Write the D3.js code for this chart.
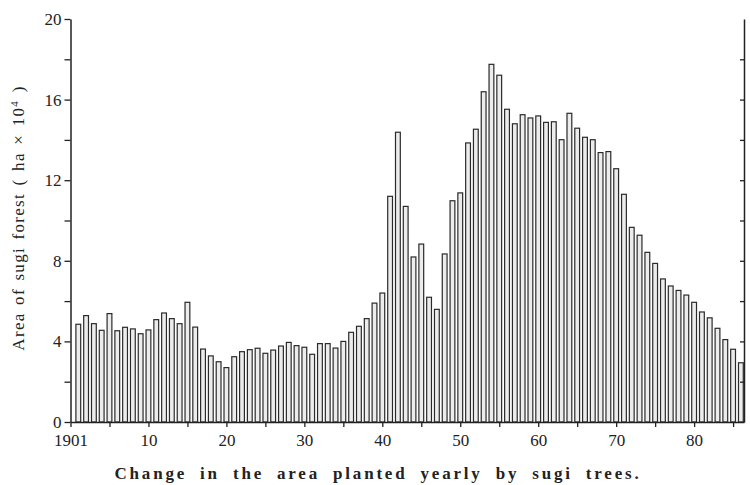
<!DOCTYPE html>
<html>
<head>
<meta charset="utf-8">
<script src="https://cdn.jsdelivr.net/npm/d3@7"></script>
<style>
  html, body { margin: 0; padding: 0; background: #fff; }
  svg { display: block; }
  text { font-family: "Liberation Serif", "DejaVu Serif", serif; fill: #222; }
</style>
</head>
<body>
<svg id="chart" width="750" height="485"></svg>
<script>
// Planting years (1901 to 1986)
const years = [
  1901, 1902, 1903, 1904, 1905, 1906, 1907, 1908, 1909, 1910,
  1911, 1912, 1913, 1914, 1915, 1916, 1917, 1918, 1919, 1920,
  1921, 1922, 1923, 1924, 1925, 1926, 1927, 1928, 1929, 1930,
  1931, 1932, 1933, 1934, 1935, 1936, 1937, 1938, 1939, 1940,
  1941, 1942, 1943, 1944, 1945, 1946, 1947, 1948, 1949, 1950,
  1951, 1952, 1953, 1954, 1955, 1956, 1957, 1958, 1959, 1960,
  1961, 1962, 1963, 1964, 1965, 1966, 1967, 1968, 1969, 1970,
  1971, 1972, 1973, 1974, 1975, 1976, 1977, 1978, 1979, 1980,
  1981, 1982, 1983, 1984, 1985, 1986
];

// Area planted each year (ha x 10^4)
const plantedArea = [
  4.85, 5.28, 4.88, 4.55, 5.38, 4.53, 4.70, 4.62, 4.38, 4.57,
  5.08, 5.41, 5.13, 4.88, 5.94, 4.71, 3.62, 3.28, 2.99, 2.70,
  3.24, 3.49, 3.59, 3.66, 3.41, 3.57, 3.77, 3.95, 3.79, 3.71,
  3.36, 3.89, 3.89, 3.67, 4.00, 4.45, 4.75, 5.13, 5.90, 6.40,
  11.20, 14.38, 10.70, 8.19, 8.83, 6.19, 5.59, 8.34, 10.98, 11.37,
  13.85, 14.53, 16.39, 17.75, 17.21, 15.52, 14.80, 15.25, 15.09, 15.19,
  14.87, 14.90, 14.01, 15.32, 14.58, 14.13, 14.01, 13.37, 13.42, 12.57,
  11.30, 9.66, 9.27, 8.42, 7.87, 7.10, 6.75, 6.53, 6.30, 5.94,
  5.46, 5.17, 4.65, 4.09, 3.61, 2.94
];

// Axis ticks and labels
const yTicks = [0, 2, 4, 6, 8, 10, 12, 14, 16, 18, 20];
const yLabelled = [0, 4, 8, 12, 16, 20];
const rightTicks = [2, 4, 6, 8, 10, 12, 14, 16, 18];
const xTicks = [1900, 1905, 1910, 1915, 1920, 1925, 1930, 1935, 1940, 1945,
                1950, 1955, 1960, 1965, 1970, 1975, 1980, 1985];
const xTickLabels = {1900: "1901", 1910: "10", 1920: "20", 1930: "30", 1940: "40",
                     1950: "50", 1960: "60", 1970: "70", 1980: "80"};

const yTitle = "Area of sugi forest ( ha \u00d7 10";
const caption = "Change in the area planted yearly by sugi trees.";

const svg = d3.select("#chart");
const plotLeft = 70.5, plotRight = 744, plotTop = 19, plotBottom = 422;

const x = d3.scaleLinear().domain([1900, 1986.4]).range([plotLeft, plotRight]);
const y = d3.scaleLinear().domain([0, 20]).range([plotBottom, plotTop]);
const barW = 4.8;

// bars
svg.append("g")
  .selectAll("rect")
  .data(years.map((yr, i) => ({ yr, v: plantedArea[i] })))
  .join("rect")
  .attr("x", d => x(d.yr) - barW / 2)
  .attr("y", d => y(d.v))
  .attr("width", barW)
  .attr("height", d => y(0) - y(d.v))
  .attr("fill", "#ececec")
  .attr("stroke", "#2a2a2a")
  .attr("stroke-width", 1.2);

function styleAxis(g) {
  g.selectAll(".domain").attr("stroke", "#222").attr("stroke-width", 1.5);
  g.selectAll(".tick line").attr("stroke", "#222").attr("stroke-width", 1.3);
  g.selectAll(".tick text")
    .attr("font-family", "'Liberation Serif', serif")
    .attr("font-size", 17)
    .attr("fill", "#222");
}

// left axis
svg.append("g")
  .attr("transform", `translate(${plotLeft},0)`)
  .call(d3.axisLeft(y).tickValues(yTicks).tickSize(6).tickPadding(3).tickSizeOuter(0)
    .tickFormat(d => yLabelled.includes(d) ? String(d) : ""))
  .call(styleAxis);

// right axis (ticks pointing inward)
svg.append("g")
  .attr("transform", `translate(${plotRight},0)`)
  .call(d3.axisLeft(y).tickValues(rightTicks).tickSize(4).tickSizeOuter(0).tickFormat(""))
  .call(styleAxis);

// bottom axis
svg.append("g")
  .attr("transform", `translate(0,${plotBottom})`)
  .call(d3.axisBottom(x).tickValues(xTicks).tickSize(5).tickPadding(7).tickSizeOuter(0)
    .tickFormat(d => xTickLabels[d] || ""))
  .call(styleAxis);

// y-axis title
const yt = svg.append("text")
  .attr("transform", "translate(24,218) rotate(-90)")
  .attr("text-anchor", "middle")
  .attr("font-size", 17)
  .attr("letter-spacing", 1.3)
  .attr("word-spacing", 2);
yt.append("tspan").text(yTitle);
yt.append("tspan").attr("font-size", 11).attr("dy", -6).text("4");
yt.append("tspan").attr("dy", 6).text(" )");

// caption
svg.append("text")
  .attr("x", 378)
  .attr("y", 479)
  .attr("text-anchor", "middle")
  .attr("font-size", 17)
  .attr("font-weight", "bold")
  .attr("letter-spacing", 2.8)
  .attr("word-spacing", 6)
  .text(caption);
</script>
</body>
</html>
